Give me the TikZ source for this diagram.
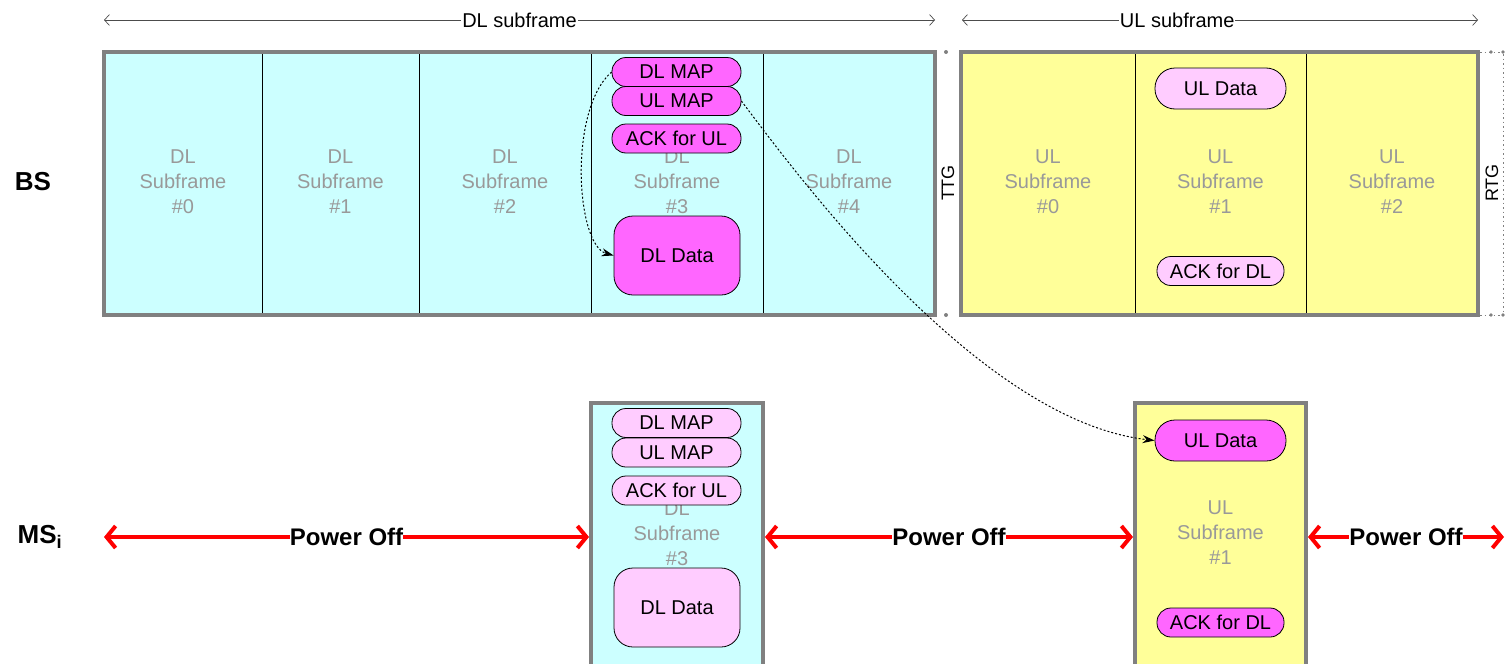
\documentclass[tikz,border=0pt]{standalone}
\usepackage{fontspec}
\setmainfont{Liberation Sans}
\usetikzlibrary{arrows.meta}
\definecolor{cyanfill}{HTML}{CCFFFF}
\definecolor{yelfill}{HTML}{FFFF99}
\definecolor{mag}{HTML}{FF66FF}
\definecolor{pinkl}{HTML}{FFCCFF}
\definecolor{framegray}{HTML}{808080}
\definecolor{labgray}{HTML}{999999}
\definecolor{pwred}{HTML}{FF0000}
\begin{document}
\begin{tikzpicture}[x=1pt,y=-1pt,
  frameline/.style={draw=framegray,line width=4pt},
  divider/.style={draw=black,line width=0.8pt},
  sublabel/.style={text=labgray,align=center,font=\fontsize{20}{25}\selectfont,inner sep=0pt},
  pill/.style={draw=black,line width=0.8pt,rounded corners=14pt,minimum width=129pt,minimum height=29pt,inner sep=0pt,font=\fontsize{20}{24}\selectfont},
  databox/.style={draw=black,line width=0.8pt,rounded corners=19pt,minimum width=126pt,minimum height=79pt,inner sep=0pt,font=\fontsize{20}{24}\selectfont},
  uldatabox/.style={draw=black,line width=0.8pt,rounded corners=20pt,minimum width=131pt,minimum height=41pt,inner sep=0pt,font=\fontsize{20}{24}\selectfont},
  dimline/.style={draw=black!70,line width=0.7pt,{Straight Barb[length=5pt,width=11pt]}-{Straight Barb[length=5pt,width=11pt]}},
  dimlabel/.style={fill=white,inner sep=1pt,font=\fontsize{20}{24}\selectfont},
  gaplabel/.style={rotate=90,inner sep=0pt,font=\fontsize{18}{22}\selectfont},
  rowlabel/.style={font=\fontsize{26}{30}\selectfont\bfseries,inner sep=0pt},
  pwr/.style={draw=pwred,line width=4pt,{Straight Barb[length=9pt,width=22pt]}-{Straight Barb[length=9pt,width=22pt]}},
  pwlabel/.style={fill=white,inner sep=0pt,font=\fontsize{24}{28}\selectfont\bfseries},
  link/.style={draw=black,line width=1pt,dash pattern=on 2pt off 2pt,-{Stealth[length=12pt,width=8pt]}},
  gapdot/.style={fill=framegray,draw=none},
  gapdots/.style={draw=framegray,line width=1pt,dash pattern=on 1.5pt off 3pt}
]
\useasboundingbox (0,0) rectangle (1505,664);

% ---------- top dimension lines ----------
\coordinate (dlL) at (104,20);
\coordinate (dlR) at (935,20);
\coordinate (ulL) at (962,20);
\coordinate (ulR) at (1478,20);
\draw[dimline] (dlL) -- node[dimlabel,pos=0.5] (dllab) {DL subframe} (dlR);
\draw[dimline] (ulL) -- node[dimlabel,pos=0.417] (ullab) {UL subframe} (ulR);

% ---------- BS frames ----------
\fill[cyanfill] (104,52) rectangle (935,315);
\fill[yelfill] (961,52) rectangle (1478,315);
\foreach \x in {262,419,591,763} \draw[divider] (\x,52) -- (\x,315);
\foreach \x in {1135,1306} \draw[divider] (\x,52) -- (\x,315);

\node[sublabel] (dl0) at (183,182) {DL\\Subframe\\\#0};
\node[sublabel] (dl1) at (340.5,182) {DL\\Subframe\\\#1};
\node[sublabel] (dl2) at (505,182) {DL\\Subframe\\\#2};
\node[sublabel] (dl3) at (677,182) {DL\\Subframe\\\#3};
\node[sublabel] (dl4) at (849,182) {DL\\Subframe\\\#4};
\node[sublabel] (ul0) at (1048,182) {UL\\Subframe\\\#0};
\node[sublabel] (ul1) at (1220.5,182) {UL\\Subframe\\\#1};
\node[sublabel] (ul2) at (1392,182) {UL\\Subframe\\\#2};

\draw[frameline] (104,52) rectangle (935,315);
\draw[frameline] (961,52) rectangle (1478,315);

% gaps
\node[gaplabel] (ttg) at (948,183) {TTG};
\node[gaplabel] (rtg) at (1492,183) {RTG};
\fill[gapdot] (946,52) circle (2pt);
\fill[gapdot] (946,315) circle (2pt);
\draw[gapdots] (1480,52) -- (1505,52);
\draw[gapdots] (1480,315) -- (1505,315);
\draw[gapdots] (1503,54) -- (1503,313);
\fill[gapdot] (1491,52) circle (1.8pt);
\fill[gapdot] (1491,315) circle (1.8pt);
\fill[gapdot] (1503,52) circle (1.8pt);
\fill[gapdot] (1503,315) circle (1.8pt);

% BS pills
\node[pill,fill=mag] (dlmapT) at (676.5,72) {DL MAP};
\node[pill,fill=mag] (ulmapT) at (676.5,101) {UL MAP};
\node[pill,fill=mag] (ackulT) at (676.5,138.5) {ACK for UL};
\node[databox,fill=mag] (dldataT) at (677,255.5) {DL Data};
\node[uldatabox,fill=pinkl] (uldataT) at (1220.5,88.5) {UL Data};
\node[pill,fill=pinkl,minimum width=127pt] (ackdlT) at (1220.5,271) {ACK for DL};

% ---------- MS frames ----------
\fill[cyanfill] (591,403) rectangle (763,666);
\fill[yelfill] (1135,403) rectangle (1306,666);
\node[sublabel] (msdl3) at (677,534) {DL\\Subframe\\\#3};
\node[sublabel] (msul1) at (1220.5,533) {UL\\Subframe\\\#1};
\draw[frameline] (591,668) -- (591,403) -- (763,403) -- (763,668);
\draw[frameline] (1135,668) -- (1135,403) -- (1306,403) -- (1306,668);

\node[pill,fill=pinkl] (dlmapB) at (676.5,423) {DL MAP};
\node[pill,fill=pinkl] (ulmapB) at (676.5,452.5) {UL MAP};
\node[pill,fill=pinkl] (ackulB) at (676.5,490.5) {ACK for UL};
\node[databox,fill=pinkl] (dldataB) at (677,607.5) {DL Data};
\node[uldatabox,fill=mag] (uldataB) at (1220.5,440.5) {UL Data};
\node[pill,fill=mag,minimum width=127pt] (ackdlB) at (1220.5,622.5) {ACK for DL};

% ---------- row labels ----------
\node[rowlabel] (bs) at (33,182) {BS};
\node[rowlabel] (ms) at (40,537) {MS\textsubscript{i}};

% ---------- power off ----------
\coordinate (p0) at (104,537);
\coordinate (p1) at (589,537);
\coordinate (p2) at (765,537);
\coordinate (p3) at (1133,537);
\coordinate (p4) at (1308,537);
\coordinate (p5) at (1504,537);
\draw[pwr] (p0) -- node[pwlabel] (pw1) {Power Off} (p1);
\draw[pwr] (p2) -- node[pwlabel] (pw2) {Power Off} (p3);
\draw[pwr] (p4) -- node[pwlabel] (pw3) {Power Off} (p5);

% ---------- dotted links ----------
\draw[link] (dlmapT.west) .. controls (568,110) and (576,245) .. (dldataT.west);
\draw[link] (ulmapT.east) .. controls (790,165) and (975,420) .. (uldataB.west);
\end{tikzpicture}
\end{document}
